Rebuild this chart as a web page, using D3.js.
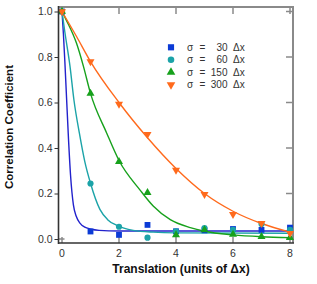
<!DOCTYPE html>
<html>
<head>
<meta charset="utf-8">
<script src="https://cdn.jsdelivr.net/npm/d3@7"></script>
<style>
  body { margin: 0; background: #fff; }
  svg { display: block; font-family: "Liberation Sans", Arial, sans-serif; }
</style>
</head>
<body>
<div id="chart"></div>
<script>
// Correlation coefficient vs translation, four sigma values

const sigmas = [30, 60, 150, 300];
const colors = ["#0b3bd6", "#1ba3a8", "#17a11c", "#ff6a1c"];
const lineColors = ["#2222cc", "#1ba3a8", "#17a11c", "#ff6a1c"];
const shapes = [d3.symbolSquare, d3.symbolCircle, d3.symbolTriangle, "down"];

// measured points (translation 0..8)
const shifts = [0, 1, 2, 3, 4, 5, 6, 7, 8];
const corr30  = [1.0, 0.033, 0.018, 0.062, 0.034, 0.038, 0.044, 0.040, 0.050];
const corr60  = [1.0, 0.244, 0.054, 0.006, 0.034, 0.048, 0.040, 0.066, 0.040];
const corr150 = [1.0, 0.640, 0.340, 0.204, 0.018, 0.040, 0.020, 0.010, 0.006];
const corr300 = [1.0, 0.780, 0.593, 0.460, 0.303, 0.196, 0.108, 0.069, 0.025];

// fitted curves
const fit30x  = [0, 0.05, 0.1, 0.16, 0.22, 0.3, 0.4, 0.5, 0.63, 0.8, 1.0, 1.3, 2, 8];
const fit30y  = [1, 0.9, 0.78, 0.62, 0.46, 0.28, 0.15, 0.1, 0.07, 0.052, 0.044, 0.038, 0.035, 0.035];
const fit60x  = [0, 0.1, 0.28, 0.42, 0.61, 0.8, 1, 1.33, 1.6, 1.92, 2.5, 3.2, 4, 8];
const fit60y  = [1, 0.91, 0.76, 0.61, 0.465, 0.34, 0.245, 0.13, 0.085, 0.06, 0.038, 0.03, 0.027, 0.025];
const fit150x = [0, 0.16, 0.51, 0.75, 1, 1.57, 2, 2.74, 3.2, 3.8, 4.5, 5, 6, 7, 8];
const fit150y = [1, 0.96, 0.86, 0.76, 0.64, 0.465, 0.345, 0.215, 0.145, 0.085, 0.05, 0.034, 0.018, 0.01, 0.006];
const fit300x = [0, 0.51, 1, 2, 3, 4, 5, 6, 7, 8];
const fit300y = [1, 0.89, 0.78, 0.60, 0.445, 0.31, 0.2, 0.122, 0.068, 0.03];

const xTicks = [0, 2, 4, 6, 8];
const yTicks = [0, 0.2, 0.4, 0.6, 0.8, 1.0];

const width = 317, height = 284;
const frame = { left: 58.5, right: 293, top: 7, bottom: 243 };

const x = d3.scaleLinear().domain([0, 8]).range([62, 290]);
const y = d3.scaleLinear().domain([0, 1]).range([239, 11.5]);

const svg = d3.select("#chart").append("svg")
    .attr("width", width)
    .attr("height", height);

const measured = [corr30, corr60, corr150, corr300];
const fits = [[fit30x, fit30y], [fit60x, fit60y], [fit150x, fit150y], [fit300x, fit300y]];

// frame: top/right gray, left/bottom dark
svg.append("line").attr("x1", frame.left).attr("x2", frame.right + 1)
    .attr("y1", frame.top).attr("y2", frame.top)
    .attr("stroke", "#8a8a8a").attr("stroke-width", 2);
svg.append("line").attr("x1", frame.right).attr("x2", frame.right)
    .attr("y1", frame.top).attr("y2", frame.bottom)
    .attr("stroke", "#8a8a8a").attr("stroke-width", 2);

// inner ticks on top, right, bottom
const tickG = svg.append("g").attr("stroke", "#8a8a8a").attr("stroke-width", 1.5);
xTicks.forEach(t => {
    tickG.append("line").attr("x1", x(t)).attr("x2", x(t))
        .attr("y1", frame.top).attr("y2", frame.top + 7);
    tickG.append("line").attr("x1", x(t)).attr("x2", x(t))
        .attr("y1", frame.bottom).attr("y2", frame.bottom - 6);
});
yTicks.forEach(t => {
    tickG.append("line").attr("x1", frame.right).attr("x2", frame.right - 7)
        .attr("y1", y(t)).attr("y2", y(t));
});
tickG.append("line").attr("x1", frame.left).attr("x2", frame.left + 6)
    .attr("y1", y(0)).attr("y2", y(0));

// fitted curves
const line = d3.line()
    .x(d => x(d[0]))
    .y(d => y(d[1]))
    .curve(d3.curveMonotoneX);

fits.forEach((f, i) => {
    const pts = f[0].map((v, k) => [v, f[1][k]]);
    svg.append("path")
        .attr("d", line(pts))
        .attr("fill", "none")
        .attr("stroke", lineColors[i])
        .attr("stroke-width", 1.4);
});

// markers
function markerPath(i, size) {
    const type = shapes[i] === "down" ? d3.symbolTriangle : shapes[i];
    return d3.symbol().type(type).size(size)();
}
const sizes = [34, 30, 28, 28];

measured.forEach((vals, i) => {
    svg.append("g").selectAll("path")
        .data(vals)
        .join("path")
        .attr("d", markerPath(i, sizes[i]))
        .attr("transform", (d, k) => `translate(${x(shifts[k])},${y(d)})` + (shapes[i] === "down" ? " rotate(180)" : ""))
        .attr("fill", colors[i]);
});

// left and bottom axis lines (dark)
svg.append("line").attr("x1", frame.left).attr("x2", frame.left)
    .attr("y1", frame.top - 1).attr("y2", frame.bottom + 1)
    .attr("stroke", "#333").attr("stroke-width", 1.6);
svg.append("line").attr("x1", frame.left).attr("x2", frame.right + 1)
    .attr("y1", frame.bottom).attr("y2", frame.bottom)
    .attr("stroke", "#333").attr("stroke-width", 1.6);

// y axis (ticks outward)
const yAxis = svg.append("g")
    .attr("transform", `translate(${frame.left},0)`)
    .call(d3.axisLeft(y).tickValues(yTicks).tickSize(4).tickPadding(2).tickFormat(d3.format(".1f")));
yAxis.select(".domain").remove();
yAxis.selectAll("line").attr("stroke", "#333");
yAxis.selectAll("text").attr("font-size", 10.5).attr("fill", "#333")
    .attr("font-family", "Liberation Sans, Arial, sans-serif");

// x tick labels
svg.append("g").selectAll("text")
    .data(xTicks)
    .join("text")
    .attr("x", d => x(d))
    .attr("y", 257)
    .attr("text-anchor", "middle")
    .attr("font-size", 10.5)
    .attr("fill", "#333")
    .text(d => d);

// axis titles
svg.append("text")
    .attr("x", 181).attr("y", 273)
    .attr("text-anchor", "middle")
    .attr("font-size", 12).attr("font-weight", "bold")
    .attr("fill", "#111")
    .text("Translation (units of \u0394x)");
svg.append("text")
    .attr("transform", "translate(12.5,127) rotate(-90)")
    .attr("text-anchor", "middle")
    .attr("font-size", 11.5).attr("font-weight", "bold")
    .attr("fill", "#111")
    .text("Correlation Coefficient");

// legend
const legend = svg.append("g");
sigmas.forEach((s, i) => {
    const ly = 47.3 + i * 12.5;
    legend.append("path")
        .attr("d", markerPath(i, sizes[i] + 4))
        .attr("transform", `translate(171,${ly})` + (shapes[i] === "down" ? " rotate(180)" : ""))
        .attr("fill", colors[i]);
    const row = legend.append("g").attr("font-size", 10).attr("fill", "#333");
    row.append("text").attr("x", 187).attr("y", ly + 3.5).text("\u03c3");
    row.append("text").attr("x", 199.5).attr("y", ly + 3.5).text("=");
    row.append("text").attr("x", 227.5).attr("y", ly + 3.5).attr("text-anchor", "end").text(s);
    row.append("text").attr("x", 233).attr("y", ly + 3.5).text("\u0394x");
});
</script>
</body>
</html>
